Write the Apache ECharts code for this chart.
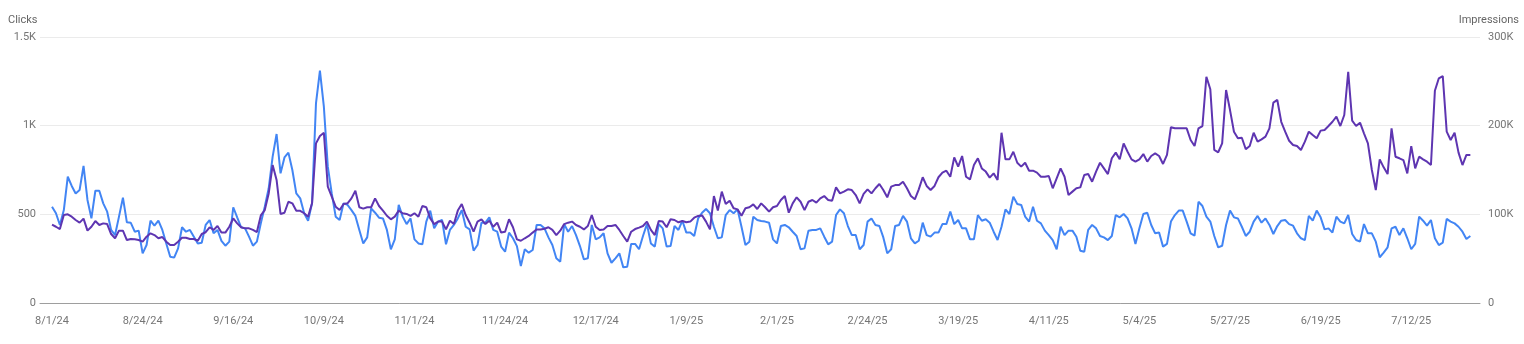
<!DOCTYPE html>
<html>
<head>
<meta charset="utf-8">
<script src="https://cdn.jsdelivr.net/npm/echarts@6/dist/echarts.min.js"></script>
<style>
html,body{margin:0;padding:0;background:#fff;}
#chart{width:1524px;height:344px;}
</style>
</head>
<body>
<div id="chart"></div>
<script>
// Daily dates 8/1/24 .. 7/27/25 (361 days)
const startDate = [2024, 7, 1];
const dayCount = 361;
const dates = [];
for (let i = 0; i < dayCount; i++) {
  const d = new Date(startDate[0], startDate[1], startDate[2] + i);
  dates.push((d.getMonth() + 1) + '/' + d.getDate() + '/' + String(d.getFullYear()).slice(2));
}
const tickIndex = [0,23,46,69,92,115,138,161,184,207,230,253,276,299,322,345];
const axisNames = ['Clicks', 'Impressions'];

const clicks = [
543,506,440,524,712,660,618,637,773,581,
477,633,633,562,515,412,383,487,594,455,
452,402,408,280,327,464,436,464,412,336,
261,256,308,427,402,412,374,336,340,440,
468,393,412,350,323,346,540,483,427,421,
374,323,346,449,543,647,825,953,731,821,
848,750,618,590,506,464,562,1126,1310,1107,
769,618,487,
468,562,553,524,491,412,336,370,534,509,
481,477,412,303,359,553,487,445,477,359,
336,331,459,521,421,459,468,331,412,440,
477,524,430,415,295,327,453,453,483,412,
402,318,289,397,365,321,209,303,284,299,
440,440,421,370,327,252,233,445,402,434,
383,321,246,252,440,359,370,393,280,227,
252,280,
201,205,333,333,303,378,445,336,318,445,
421,318,321,434,412,464,397,397,378,477,
509,530,506,430,365,370,496,524,506,528,
430,327,346,487,468,462,459,453,359,336,
434,440,427,402,378,303,308,408,412,412,
421,374,331,346,496,528,506,434,383,383,
303,327,459,477,440,434,370,280,303,434,
440,491,
459,365,336,351,453,383,374,397,397,445,
445,515,445,468,421,421,359,359,496,464,
472,453,402,355,430,528,502,600,558,553,
487,459,543,464,449,408,383,355,303,430,
383,408,408,374,295,289,412,440,421,378,
370,355,378,496,483,502,477,421,333,421,
502,509,440,393,397,318,333,459,496,521,
521,459,393,
380,571,547,487,459,378,314,323,440,521,
483,477,430,378,402,459,491,453,477,440,
389,434,464,468,445,436,393,365,355,491,
464,521,483,415,421,397,487,459,449,496,
389,355,346,445,393,393,346,258,284,314,
421,430,383,421,365,303,333,487,464,436,
468,365,327,340,474,459,449,430,402,361,
378
];

const impressions = [
88400,86000,83400,99200,100000,97400,93600,90600,95200,81600,
86000,92400,88000,89800,89000,77800,73000,81600,81600,71000,
72200,71800,71000,69200,74800,78600,76600,73000,74400,69200,
65400,65400,69200,73600,73600,72200,72200,70200,77800,79800,
85400,82400,86800,79400,79400,86000,95400,89800,85400,84200,
84200,82400,80000,98800,104800,123600,155600,138800,100400,101800,
114200,112400,104000,104000,101200,97400,112400,180000,188400,192000,
131200,120000,108600,
104800,111600,112400,118000,126600,108000,106400,108000,108000,118000,
109400,104200,98400,94400,97400,104200,101200,100400,98200,101200,
97400,109400,108000,95400,89000,91800,91800,83000,92800,89000,
104200,111600,99200,90600,80400,91800,94400,89000,92800,86000,
90600,79400,80400,94400,85400,71800,70200,73000,75600,79400,
83000,83000,83800,85400,82400,76600,81600,89000,90600,91800,
88000,86000,83000,86800,99200,86000,82400,83000,86800,86800,
88000,82400,
75600,69200,80400,83400,85000,86800,91800,82400,76600,92400,
91800,85400,94400,93600,91000,92400,91000,91800,96200,98200,
98800,91800,83000,120600,104200,125600,111600,115400,106800,105600,
98400,106800,108000,111200,106000,112400,108000,103000,108000,109400,
116200,120600,101800,112400,119200,114200,104800,114200,116200,113200,
118000,120600,116200,115400,130400,123600,125600,128200,127400,121800,
112400,123000,128200,123600,129400,134200,127400,119200,131200,133000,
133000,136800,
129400,120600,117000,128200,141800,132000,127400,132000,141800,147000,
149200,142400,164200,153800,165800,142400,139400,155600,163200,151800,
148200,141400,146200,138800,192000,162000,162000,170600,158200,153800,
158200,149200,149200,147000,142400,142400,143200,129400,140600,151800,
142400,121800,125600,129400,130400,144400,145400,136800,148200,158200,
151800,145400,163200,169600,162000,180000,170600,162000,159400,162000,
168000,159400,165800,168800,165800,156800,167000,198200,197000,197000,
197000,197000,183800,
177000,197000,199600,255200,241000,172600,170000,180000,240200,217600,
193200,185800,186400,173400,177000,192000,182000,184600,187600,197000,
226000,229000,204400,193200,183000,178200,177000,172600,182000,193200,
189400,185800,194400,195200,199600,204400,210200,199600,212000,260800,
205600,199600,203400,191400,180000,150000,127400,162000,153000,145400,
197000,165000,163200,161200,146200,177000,151800,165000,162000,159400,
155600,239400,253400,256000,193200,183800,192000,169600,155600,167000,
167000
];

const chart = echarts.init(document.getElementById('chart'), null, {renderer: 'canvas'});
const font = 'Roboto, "Noto Sans", Arial, sans-serif';
const labelColor = '#757575';
const nameColor = '#666666';

chart.setOption({
  animation: false,
  backgroundColor: '#ffffff',
  grid: {left: 40, right: 44, top: 37, bottom: 41, containLabel: false},
  graphic: [
    {type: 'text', left: 8, top: 15, silent: true,
     style: {text: axisNames[0], fill: nameColor, font: '11px ' + font}},
    {type: 'text', right: 5, top: 15, silent: true,
     style: {text: axisNames[1], fill: nameColor, font: '11px ' + font}}
  ],
  xAxis: {
    type: 'value',
    min: -3.05,
    max: 362.45,
    axisLine: {show: true, lineStyle: {color: '#9e9e9e', width: 1}},
    axisTick: {show: false},
    splitLine: {show: false},
    axisLabel: {
      customValues: tickIndex,
      formatter: v => dates[Math.round(v)],
      color: labelColor, fontFamily: font, fontSize: 11, margin: 13
    }
  },
  yAxis: [
    {
      type: 'value', min: 0, max: 1500, interval: 500,
      axisLine: {show: false}, axisTick: {show: false},
      axisLabel: {color: labelColor, fontFamily: font, fontSize: 11, margin: 4,
        formatter: v => v >= 1000 ? (v / 1000) + 'K' : String(v)},
      splitLine: {show: true, lineStyle: {color: '#ebebeb', width: 1}}
    },
    {
      type: 'value', min: 0, max: 300000, interval: 100000,
      axisLine: {show: false}, axisTick: {show: false},
      axisLabel: {color: labelColor, fontFamily: font, fontSize: 11, margin: 8,
        formatter: v => v === 0 ? '0' : (v / 1000) + 'K'},
      splitLine: {show: false}
    }
  ],
  series: [
    {
      name: 'Clicks', type: 'line', yAxisIndex: 0,
      data: clicks.map((v, i) => [i, v]),
      showSymbol: false, symbol: 'none',
      lineStyle: {color: '#4285f4', width: 2},
      itemStyle: {color: '#4285f4'}
    },
    {
      name: 'Impressions', type: 'line', yAxisIndex: 1,
      data: impressions.map((v, i) => [i, v]),
      showSymbol: false, symbol: 'none',
      lineStyle: {color: '#5e35b1', width: 2},
      itemStyle: {color: '#5e35b1'}
    }
  ]
});
</script>
</body>
</html>
